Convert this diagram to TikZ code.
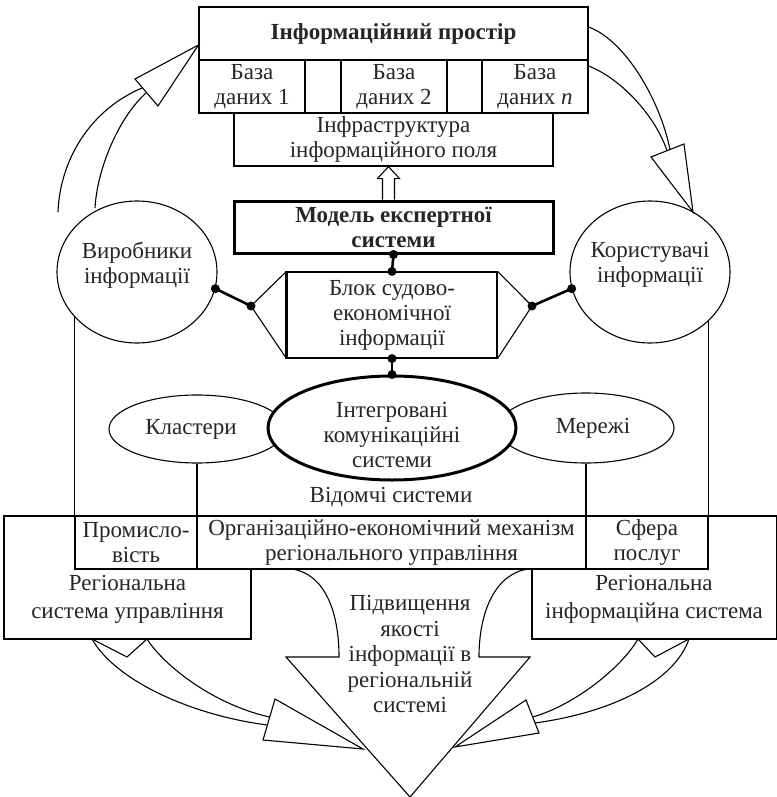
\documentclass[tikz,border=0pt]{standalone}
\usepackage{fontspec}
\setmainfont{Liberation Serif}
\usetikzlibrary{calc,shapes.geometric}
\newcommand{\myfs}{\fontsize{23}{25}\selectfont}
\begin{document}
\begin{tikzpicture}[x=1pt,y=-1pt,
  every node/.style={font=\myfs, align=center, inner sep=0pt, text=black!85},
  ln/.style={line width=1.1pt, line join=miter},
  box/.style={draw, ln, rectangle, fill=white},
  ell/.style={draw, ln, ellipse, fill=white},
  conn/.style={line width=2.6pt},
  dot/.style={fill=black}
]
\useasboundingbox (0,0) rectangle (776,797);

% ---- information space ----
\node[box, minimum width=389, minimum height=53, font=\bfseries\myfs] (space) at (393.5,33.5) {Інформаційний простір};
\node[box, minimum width=106, minimum height=53] (db1) at (252,86.5) {База\\даних 1};
\node[box, minimum width=36, minimum height=53] (gap1) at (323,86.5) {};
\node[box, minimum width=106, minimum height=53] (db2) at (394,86.5) {База\\даних 2};
\node[box, minimum width=35, minimum height=53] (gap2) at (464.5,86.5) {};
\node[box, minimum width=106, minimum height=53] (dbn) at (535,86.5) {База\\даних \textit{n}};
\node[box, minimum width=319, minimum height=53] (infra) at (393.5,139.5) {Інфраструктура\\інформаційного поля};

% ---- expert system model ----
\node[box, line width=3pt, minimum width=319, minimum height=52, font=\bfseries\myfs] (model) at (393.5,227) {Модель експертної\\системи};

% hollow arrow up
\draw[ln] ($(model.north)+(-11,0)$) -- ($(infra.south)+(-11,12)$) -- ($(infra.south)+(-16,12)$)
  -- ($(infra.south)+(-5,0)$) -- ($(infra.south)+(6,12)$) -- ($(infra.south)+(1,12)$) -- ($(model.north)+(1,0)$);

% ---- block ----
\node[box, minimum width=210, minimum height=86] (block) at (392,315) {Блок судово-\\економічної\\інформації};
\draw[line width=2.6pt] (block.north west) -- (block.south west);
\coordinate (hl) at (251,306);
\coordinate (hr) at (532,306);
\draw[ln] (block.north west) -- (hl) -- (block.south west);
\draw[ln] (block.north east) -- (hr) -- (block.south east);

% ---- producers / users ----
\node[ell, minimum width=160, minimum height=142,
  label={[yshift=7pt]center:{Виробники\\інформації}}] (prod) at (137,272) {};
\node[ell, minimum width=160, minimum height=142,
  label={[yshift=7pt]center:{Користувачі\\інформації}}] (user) at (650,272) {};

% ---- clusters, networks, ICS ----
\node[ell, minimum width=176, minimum height=68,
  label={[xshift=-6pt]center:Кластери}] (clus) at (197,429) {};
\node[ell, minimum width=176, minimum height=70,
  label={[xshift=7pt]center:Мережі}] (mer) at (586,428) {};
\node[ell, line width=3pt, minimum width=248, minimum height=104,
  label={[yshift=-7pt]center:{Інтегровані\\комунікаційні\\системи}}] (ics) at (392,428) {};

% ---- dotted connectors ----
\draw[conn] (model.south) -- (block.north);
\fill[dot] (model.south) circle (4.5) (block.north) circle (4.5);
\draw[conn] (block.south) -- (ics.north);
\fill[dot] (block.south) circle (4.5) (ics.north) circle (4.5);
\draw[conn] (prod.-12) -- (hl);
\fill[dot] (prod.-12) circle (4.5) (hl) circle (4.5);
\draw[conn] (hr) -- (user.192);
\fill[dot] (hr) circle (4.5) (user.192) circle (4.5);

\node (vid) at (391,497) {Відомчі системи};

% ---- regional boxes ----
\node[box, minimum width=247, minimum height=123] (lb) at (127.5,577.5) {};
\node[box, minimum width=245, minimum height=123] (rb) at (654.5,577.5) {};
\node[font=\fontsize{23}{28}\selectfont] (lbt) at (127.5,599) {Регіональна\\система управління};
\node[font=\fontsize{23}{28}\selectfont] (rbt) at (654,599) {Регіональна\\інформаційна система};

\node[box, minimum width=122, minimum height=53] (prom) at (136,542.5) {Промисло-\\вість};
\node[box, minimum width=389, minimum height=53] (org) at (391.5,542.5) {Організаційно-економічний механізм\\регіонального управління};
\node[box, minimum width=122, minimum height=53] (sfera) at (647,542.5) {Сфера\\послуг};

% vertical lines
\draw[ln] (prod.216) -- (prod.216 |- prom.north);
\draw[ln] (clus.south) -- (clus.south |- org.north);
\draw[ln] (mer.south) -- (mer.south |- sfera.north);
\draw[ln] (user.-40) -- (user.-40 |- sfera.north);

% ---- big arrow ----
\coordinate (tip) at (410,797);
\draw[ln] (292,569) .. controls (325,574) and (339,612) .. (339,657) -- (286,657) -- (tip)
  -- (530,657) -- (479,657) .. controls (479,612) and (495,574) .. (528,569);
\node[font=\fontsize{23}{25.5}\selectfont] (qual) at (410,654) {Підвищення\\якості\\інформації в\\регіональній\\системі};

% ---- curved arrows ----
% top-left
\draw[ln] (58,212) .. controls (60,160) and (90,110) .. (142,88);
\draw[ln] (95,208) .. controls (97,170) and (118,118) .. (146.5,92.5);
\draw[ln, fill=white] (135,79) -- ($(space.west)+(0,11.5)$) -- (158,106) -- cycle;
% top-right
\draw[ln] ($(space.east)+(0,-6.5)$) .. controls (625,40) and (660,100) .. (670,149.5);
\draw[ln] ($(dbn.east)+(0,-20.5)$) .. controls (620,78) and (655,115) .. (667,150.7);
\draw[ln, fill=white] (651,157) -- (693,212) -- (684,144) -- cycle;
% bottom-left
\draw[ln] (92,639) .. controls (115,680) and (190,715) .. (267.4,725);
\draw[ln] (147,639) .. controls (165,667) and (215,705) .. (269.7,717);
\draw[ln] (92,639) -- (127,657) -- (147,639);
\draw[ln, fill=white] (275,699) -- (363,749) -- (263,740) -- cycle;
% bottom-right
\draw[ln] (689,639) .. controls (675,680) and (615,712) .. (535,723);
\draw[ln] (638,639) .. controls (622,667) and (575,705) .. (532.7,717);
\draw[ln] (689,639) -- (655,657) -- (638,639);
\draw[ln, fill=white] (526,700) -- (455,747) -- (539,733) -- cycle;
\end{tikzpicture}
\end{document}
